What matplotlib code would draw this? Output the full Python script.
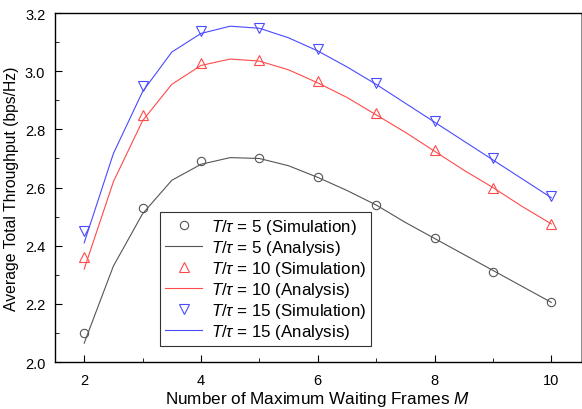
import matplotlib
matplotlib.use("Agg")
import matplotlib.pyplot as plt
from matplotlib.ticker import MultipleLocator

plt.rcParams['font.family'] = ['Liberation Sans', 'DejaVu Sans']
plt.rcParams['mathtext.fontset'] = 'custom'
plt.rcParams['mathtext.it'] = 'Liberation Sans:italic'
plt.rcParams['mathtext.rm'] = 'Liberation Sans'

m_sim = [2, 3, 4, 5, 6, 7, 8, 9, 10]
m_ana = [2, 2.5, 3, 3.5, 4, 4.5, 5, 5.5, 6, 6.5, 7, 7.5, 8, 8.5, 9, 9.5, 10]

sim5 = [2.10, 2.53, 2.69, 2.70, 2.635, 2.54, 2.425, 2.31, 2.205]
ana5 = [2.065, 2.33, 2.51, 2.625, 2.68, 2.703, 2.70, 2.675, 2.635, 2.59, 2.54,
        2.48, 2.425, 2.37, 2.315, 2.26, 2.205]
sim10 = [2.36, 2.85, 3.03, 3.04, 2.965, 2.855, 2.73, 2.60, 2.475]
ana10 = [2.32, 2.62, 2.83, 2.955, 3.02, 3.042, 3.035, 3.005, 2.96, 2.91, 2.85,
         2.79, 2.725, 2.66, 2.60, 2.535, 2.475]
sim15 = [2.45, 2.95, 3.14, 3.15, 3.075, 2.96, 2.83, 2.70, 2.57]
ana15 = [2.41, 2.717, 2.93, 3.066, 3.13, 3.155, 3.148, 3.115, 3.07, 3.015, 2.955,
         2.89, 2.825, 2.76, 2.695, 2.63, 2.565]

fig = plt.figure(figsize=(5.82, 4.10), dpi=100)
ax = fig.add_axes([0.0945, 0.1146, 0.903, 0.851])

c5, c10, c15 = '#555555', '#ff4a4a', '#4a4aff'
ax.plot(m_sim, sim5, 'o', ms=6, mfc='none', mec=c5, mew=0.8, label=r'$T/\tau$ = 5 (Simulation)')
ax.plot(m_ana, ana5, '-', color=c5, lw=0.8, label=r'$T/\tau$ = 5 (Analysis)')
ax.plot(m_sim, sim10, '^', ms=7, mfc='none', mec=c10, mew=0.8, label=r'$T/\tau$ = 10 (Simulation)')
ax.plot(m_ana, ana10, '-', color=c10, lw=0.8, label=r'$T/\tau$ = 10 (Analysis)')
ax.plot(m_sim, sim15, 'v', ms=7, mfc='none', mec=c15, mew=0.8, label=r'$T/\tau$ = 15 (Simulation)')
ax.plot(m_ana, ana15, '-', color=c15, lw=0.8, label=r'$T/\tau$ = 15 (Analysis)')

ax.set_xlim(1.5, 10.5)
ax.set_ylim(2.0, 3.2)
ax.xaxis.set_major_locator(MultipleLocator(2))
ax.xaxis.set_minor_locator(MultipleLocator(1))
ax.yaxis.set_major_locator(MultipleLocator(0.2))
ax.yaxis.set_minor_locator(MultipleLocator(0.1))
ax.yaxis.set_major_formatter(matplotlib.ticker.FormatStrFormatter('%.1f'))
ax.tick_params(which='both', direction='in', top=False, right=False, labelsize=10.5)
ax.tick_params(which='major', length=5)
ax.tick_params(which='minor', length=3)
ax.tick_params(axis='x', which='major', pad=8)
ax.tick_params(axis='y', which='major', pad=7)
for s in ax.spines.values():
    s.set_linewidth(1.0)
ax.spines['right'].set_linewidth(0.6)
ax.spines['right'].set_color('#777777')

ax.set_xlabel(r'Number of Maximum Waiting Frames $M$', fontsize=12.3, labelpad=1)
ax.set_ylabel('Average Total Throughput (bps/Hz)', fontsize=11.3, labelpad=4)

leg = ax.legend(loc='lower left', bbox_to_anchor=(0.2, 0.045), fontsize=12.2,
                fancybox=False, framealpha=1, edgecolor='#333333',
                handlelength=2.2, handletextpad=0.5, labelspacing=0.12,
                borderpad=0.3, borderaxespad=0.0)
leg.get_frame().set_linewidth(0.8)

fig.savefig('out.png', dpi=100)
